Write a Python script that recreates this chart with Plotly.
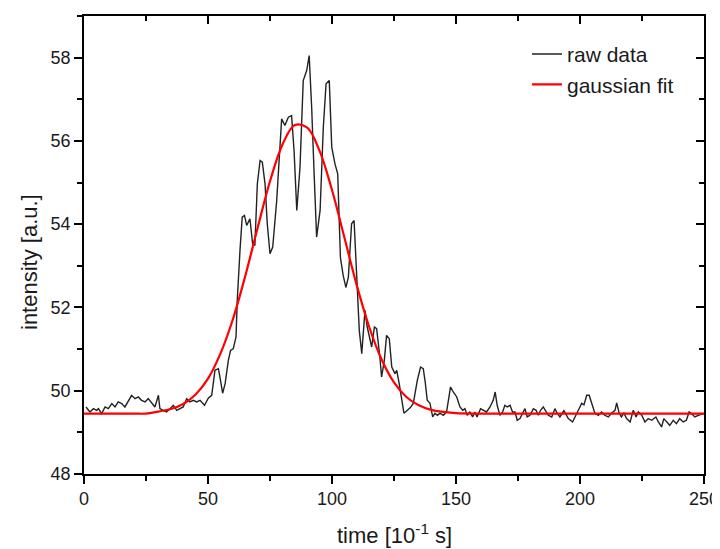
import plotly.graph_objects as go

# ---- data ----
raw_time = [0.8, 2.4, 3.8, 5.1, 5.8, 7.1, 8.5, 9.8, 11.2, 12.5, 13.8, 15.2, 16.5, 17.9, 19.2, 20.6,
            21.9, 23.2, 24.6, 25.9, 27.3, 28.6, 30.0, 30.6, 32.0, 33.3, 34.7, 36.0, 37.4, 38.7, 40.0,
            41.4, 42.7, 44.1, 45.4, 46.8, 48.1, 48.6, 50.1, 51.5, 52.8, 54.2, 54.8, 55.9, 56.9, 58.2,
            59.1, 60.2, 61.3, 61.8, 62.9, 63.8, 64.7, 65.6, 66.9, 68.0, 68.9, 69.9, 71.0, 71.9, 73.0,
            73.9, 75.0, 76.1, 77.7, 79.7, 81.0, 82.4, 83.7, 84.7, 85.8, 87.1, 88.4, 89.8, 90.8, 91.8,
            92.9, 93.8, 95.2, 96.5, 97.6, 98.9, 99.9, 101.2, 102.3, 103.4, 104.5, 105.6, 106.6, 107.9,
            108.9, 110.0, 111.0, 112.0, 113.3, 114.2, 116.0, 117.1, 118.0, 119.3, 120.0, 121.1, 122.0,
            123.1, 124.1, 125.4, 126.1, 127.1, 128.1, 129.0, 130.4, 131.7, 132.8, 134.4, 135.7, 136.8,
            137.6, 138.4, 139.5, 140.6, 141.5, 142.5, 143.5, 144.9, 146.2, 147.8, 148.9, 150.3, 151.6,
            152.7, 153.6, 154.5, 155.6, 156.7, 157.6, 158.5, 159.9, 161.3, 162.3, 163.7, 165.0, 165.8,
            166.6, 167.7, 168.8, 169.7, 170.7, 171.8, 172.8, 173.8, 174.7, 175.8, 176.9, 177.8, 178.7,
            179.8, 181.2, 182.3, 183.2, 184.1, 185.2, 186.3, 187.2, 188.6, 189.9, 190.8, 191.9, 193.5,
            195.3, 197.0, 198.6, 200.7, 201.6, 202.7, 203.7, 204.6, 206.0, 207.4, 208.7, 210.0, 211.4,
            212.7, 214.1, 214.8, 215.8, 216.7, 217.7, 218.8, 220.2, 221.5, 222.6, 223.5, 224.9, 226.2,
            227.5, 228.9, 230.6, 231.6, 232.9, 233.8, 234.9, 236.2, 237.6, 238.9, 240.2, 241.6, 242.9,
            244.0, 245.0, 246.3, 247.7, 249.7]
raw_intensity = [49.61, 49.49, 49.57, 49.53, 49.57, 49.45, 49.61, 49.57, 49.69, 49.61, 49.73, 49.69,
                 49.61, 49.77, 49.89, 49.81, 49.85, 49.77, 49.73, 49.81, 49.69, 49.61, 49.89, 49.57,
                 49.53, 49.49, 49.57, 49.65, 49.53, 49.57, 49.61, 49.81, 49.73, 49.77, 49.73, 49.77,
                 49.70, 49.65, 49.82, 49.89, 50.49, 50.53, 50.33, 49.94, 50.17, 50.73, 50.97, 51.01,
                 51.29, 52.17, 53.37, 54.17, 54.21, 53.97, 54.13, 53.53, 53.49, 54.97, 55.53, 55.49,
                 54.97, 54.01, 53.29, 53.45, 54.57, 56.53, 56.37, 56.57, 56.61, 55.77, 54.33, 55.37,
                 57.45, 57.69, 58.05, 56.81, 55.05, 53.69, 54.33, 56.33, 57.37, 57.45, 55.85, 55.45,
                 55.21, 53.20, 52.77, 52.48, 52.73, 54.01, 54.09, 52.65, 51.45, 50.89, 51.93, 51.53,
                 51.05, 51.53, 51.49, 50.81, 50.33, 50.73, 51.33, 51.25, 50.57, 50.41, 50.49, 50.17,
                 49.82, 49.46, 49.53, 49.60, 49.70, 50.25, 50.57, 50.53, 50.20, 49.77, 49.70, 49.37,
                 49.46, 49.41, 49.46, 49.41, 49.49, 50.09, 49.97, 49.85, 49.61, 49.53, 49.57, 49.41,
                 49.49, 49.37, 49.49, 49.37, 49.57, 49.53, 49.49, 49.61, 49.77, 49.97, 49.65, 49.41,
                 49.49, 49.65, 49.61, 49.65, 49.49, 49.49, 49.29, 49.33, 49.46, 49.57, 49.37, 49.41,
                 49.57, 49.53, 49.41, 49.53, 49.61, 49.49, 49.41, 49.37, 49.57, 49.46, 49.37, 49.52,
                 49.33, 49.25, 49.46, 49.70, 49.66, 49.89, 49.89, 49.70, 49.46, 49.41, 49.49, 49.41,
                 49.37, 49.46, 49.53, 49.71, 49.46, 49.37, 49.46, 49.33, 49.25, 49.53, 49.37, 49.49,
                 49.41, 49.25, 49.33, 49.29, 49.37, 49.25, 49.13, 49.33, 49.25, 49.17, 49.29, 49.21,
                 49.33, 49.25, 49.29, 49.49, 49.45, 49.37, 49.41, 49.45]

fit_time = [0, 5, 10, 15, 20, 25, 30, 35, 40, 45, 50, 55, 60, 65, 70, 75, 80, 85, 90, 95, 100,
            105, 110, 115, 120, 125, 130, 135, 140, 145, 150, 160, 170, 180, 190, 200, 210, 220,
            230, 240, 250]
fit_intensity = [49.45, 49.45, 49.45, 49.45, 49.45, 49.45, 49.50, 49.56, 49.68, 49.91, 50.29, 50.89,
                 51.71, 52.75, 53.91, 55.03, 55.91, 56.38, 56.32, 55.76, 54.82, 53.68, 52.53, 51.53,
                 50.75, 50.20, 49.85, 49.65, 49.54, 49.49, 49.46, 49.45, 49.45, 49.45, 49.45, 49.45,
                 49.45, 49.45, 49.45, 49.45, 49.45]

x_ticks = [0, 50, 100, 150, 200, 250]
y_ticks = [48, 50, 52, 54, 56, 58]

FONT = "Liberation Sans, Arial, sans-serif"
TXT = "#1a1a1a"

fig = go.Figure()
fig.add_trace(go.Scatter(x=raw_time, y=raw_intensity, mode="lines", name="raw data",
                         line=dict(color="#222222", width=1.4)))
fig.add_trace(go.Scatter(x=fit_time, y=fit_intensity, mode="lines", name="gaussian fit",
                         line=dict(color="#ff0000", width=2.2, shape="spline", smoothing=1.0)))

axis_common = dict(showgrid=False, zeroline=False, showline=True, linecolor="black",
                   linewidth=1.6, automargin=False)

# the page body adds an 8px offset; the figure is sized so it fits the 720x549 window
fig.update_layout(
    width=712, height=541,
    margin=dict(l=76, r=16, t=8, b=75),
    paper_bgcolor="white", plot_bgcolor="white",
    font=dict(family=FONT, color=TXT, size=18),
    showlegend=True,
    legend=dict(x=0.7145, y=0.961, xanchor="left", yanchor="top",
                bgcolor="rgba(0,0,0,0)", font=dict(size=21, family=FONT, color=TXT),
                tracegroupgap=0),
    xaxis=dict(range=[0, 250], tickvals=x_ticks, ticktext=[str(v) for v in x_ticks],
               ticks="outside", ticklen=8, tickwidth=1.6, tickcolor="black",
               minor=dict(dtick=25, tick0=0, ticks="outside", ticklen=5, tickwidth=1.6, tickcolor="black"),
               tickfont=dict(size=18, family=FONT, color=TXT),
               **axis_common),
    yaxis=dict(range=[48, 59], tickvals=y_ticks, ticktext=[str(v) for v in y_ticks],
               ticks="outside", ticklen=8, tickwidth=1.6, tickcolor="black",
               minor=dict(dtick=1, tick0=48, ticks="outside", ticklen=5, tickwidth=1.6, tickcolor="black"),
               tickfont=dict(size=18, family=FONT, color=TXT),
               **axis_common),
    xaxis2=dict(overlaying="x", side="top", range=[0, 250], tickvals=x_ticks, showticklabels=False,
                ticks="inside", ticklen=8, tickwidth=1.6, tickcolor="black",
                minor=dict(dtick=25, tick0=0, ticks="inside", ticklen=5, tickwidth=1.6, tickcolor="black"),
                **axis_common),
    yaxis2=dict(overlaying="y", side="right", range=[48, 59], tickvals=y_ticks, showticklabels=False,
                ticks="inside", ticklen=8, tickwidth=1.6, tickcolor="black",
                minor=dict(dtick=1, tick0=48, ticks="inside", ticklen=5, tickwidth=1.6, tickcolor="black"),
                **axis_common),
    annotations=[
        dict(text="time [10<sup>-1</sup> s]", xref="paper", yref="paper", x=0.5, y=-0.13,
             xanchor="center", yanchor="middle", showarrow=False,
             font=dict(size=22, family=FONT, color=TXT)),
        dict(text="intensity [a.u.]", xref="paper", yref="paper", x=-0.087, y=0.463,
             xanchor="center", yanchor="middle", showarrow=False, textangle=-90,
             font=dict(size=22, family=FONT, color=TXT)),
    ],
)

# invisible helper trace so the mirrored top/right frame axes are drawn
fig.add_trace(go.Scatter(x=[fit_time[0]], y=[fit_intensity[0]], xaxis="x2", yaxis="y2",
                         mode="markers", marker=dict(opacity=0), showlegend=False, hoverinfo="skip"))

fig.write_html("out.html")
